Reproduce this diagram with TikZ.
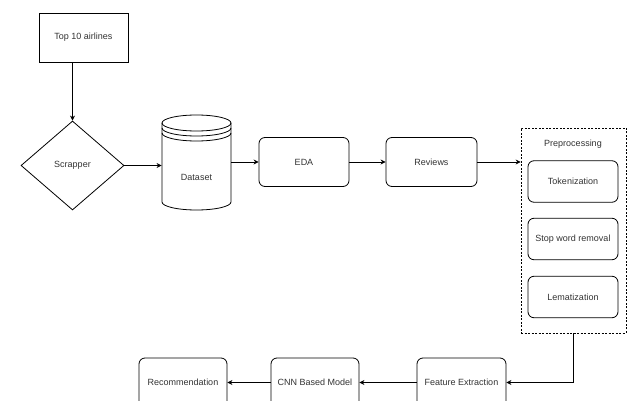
\documentclass[tikz,border=0pt]{standalone}
\usepackage{fontspec}
\setmainfont{Liberation Sans}
\usepackage{tikz}
\usetikzlibrary{shapes.geometric,arrows.meta}

\begin{document}
\begin{tikzpicture}[x=1pt,y=1pt,yscale=-1,xscale=1,
  font=\fontsize{9}{11}\selectfont, text=black!80,
  line width=0.8pt,
  box/.style={draw, rectangle, inner sep=0, minimum width=89, minimum height=49},
  rbox/.style={draw, rectangle, rounded corners=6, inner sep=0, minimum width=89, minimum height=49},
  ibox/.style={draw, rectangle, rounded corners=6, inner sep=0, minimum width=90, minimum height=41.5},
  arr/.style={-{Stealth[length=5pt,width=5pt]}}]
\clip (0,0) rectangle (633,401);
\fill[white] (0,0) rectangle (633,401);

% first row
\node [box] (top) at (83.5,37.5) {Top 10 airlines};
\node [draw, diamond, inner sep=0, minimum width=103, minimum height=89] (scrap) at (72.5,165.5) {Scrapper};
\node [inner sep=0, minimum width=69, minimum height=95] (data) at (196.5,162.5) {};
\node [rbox, minimum width=90] (eda) at (304,162) {EDA};
\node [rbox, minimum width=91] (rev) at (431.5,162) {Reviews};

% datastore shape
\draw (196.5,123) ellipse [x radius=34.5, y radius=8];
\draw (162,123) -- (162,202) arc [start angle=180, end angle=0, x radius=34.5, y radius=8] -- (231,123);
\draw (162,128) arc [start angle=180, end angle=0, x radius=34.5, y radius=8];
\draw (162,133) arc [start angle=180, end angle=0, x radius=34.5, y radius=8];
\node (datatxt) at (196.5,177) {Dataset};

% preprocessing group
\node [draw, dash pattern=on 2pt off 1.5pt, line width=0.7pt, inner sep=0, minimum width=105, minimum height=205] (prep) at (573.5,230.5) {};
\node (preptxt) at (573,144) {Preprocessing};
\node [ibox] (tok) at (573,181.5) {Tokenization};
\node [ibox] (stop) at (573,239) {Stop word removal};
\node [ibox] (lem) at (573,297) {Lematization};

% bottom row
\node [rbox] (feat) at (461.5,382.5) {Feature Extraction};
\node [rbox, minimum width=88] (cnn) at (315,382.5) {CNN Based Model};
\node [rbox, minimum width=88] (rec) at (183,382.5) {Recommendation};

\draw [arr] (scrap.north |- top.south) -- (scrap.north);
\draw [arr] (scrap.east) -- (scrap.east -| data.west);
\draw [arr] (data.east |- eda.west) -- (eda.west);
\draw [arr] (eda.east) -- (rev.west);
\draw [arr] (rev.east) -- (rev.east -| prep.west);
\draw [arr] (prep.south) |- (feat.east);
\draw [arr] (feat.west) -- (cnn.east);
\draw [arr] (cnn.west) -- (rec.east);
\end{tikzpicture}
\end{document}
